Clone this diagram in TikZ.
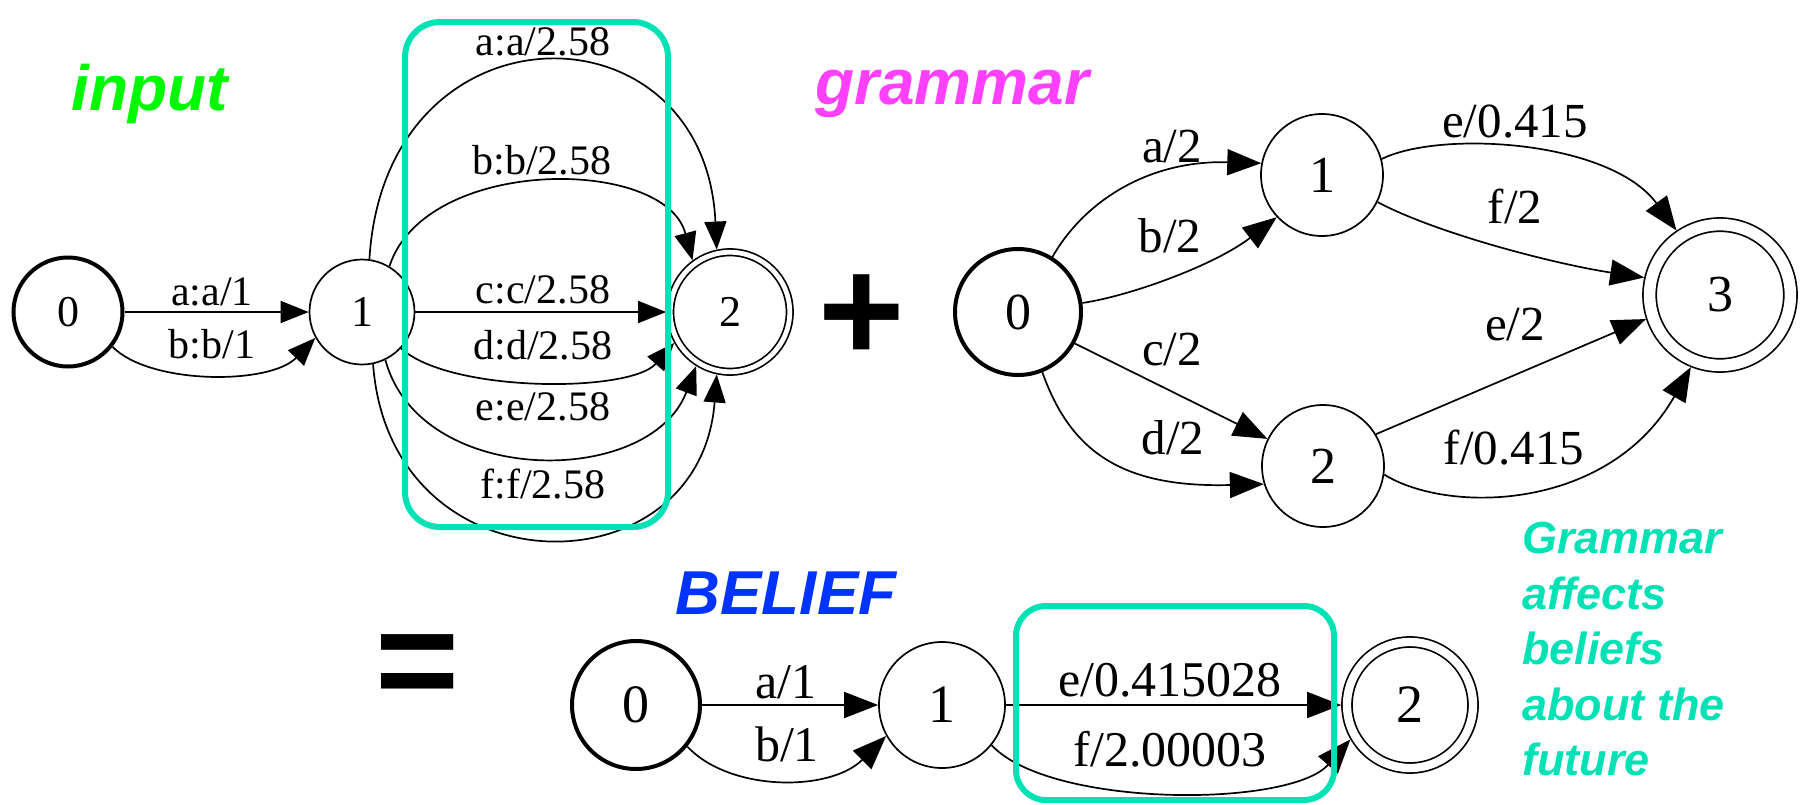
\documentclass[tikz,border=0pt]{standalone}
\usepackage{fontspec}
\setmainfont{Liberation Serif}
\newfontfamily\headfont{Liberation Sans}
\usetikzlibrary{arrows.meta}
\definecolor{inputgreen}{RGB}{0,250,0}
\definecolor{grammarpink}{RGB}{255,64,255}
\definecolor{beliefblue}{RGB}{0,51,255}
\definecolor{hilite}{RGB}{0,226,182}
\begin{document}
\begin{tikzpicture}[x=0.5pt,y=0.5pt,
  fsa/.style={circle, draw, line width=0.85pt, inner sep=0pt, outer sep=0.425pt,
    minimum size=#1},
  initst/.style={fsa=#1, line width=2pt, outer sep=1pt},
  finalst/.style={fsa=#1, double},
  arrin/.style={-{Triangle[length=14pt,width=11pt]}, line width=0.85pt},
  arrbig/.style={-{Triangle[length=17pt,width=13pt]}, line width=0.85pt},
  digin/.style={font=\fontsize{22}{24}\selectfont},
  diggr/.style={font=\fontsize{26}{28}\selectfont},
  digbe/.style={font=\fontsize{27}{29}\selectfont},
  lblin/.style={inner sep=0pt, font=\fontsize{21}{24}\selectfont},
  lblgr/.style={inner sep=0pt, font=\fontsize{24.5}{27}\selectfont},
  lblbe/.style={inner sep=0pt, font=\fontsize{25}{28}\selectfont},
  heading/.style={inner sep=0pt, font=\headfont\bfseries\itshape\fontsize{32}{36}\selectfont},
  hlbox/.style={draw=hilite, line width=3pt}
]
\useasboundingbox (0,0) rectangle (1806,-804);

% ---------- input transducer ----------
\node[heading, text=inputgreen] (ttl-in) at (150,-94) {input};
\node[initst=54.5pt, digin] (i0) at (68,-312) {0};
\node[fsa=52.5pt, digin] (i1) at (362,-312) {1};
\node[finalst=59.75pt, digin, double distance=2.4pt, outer sep=2.05pt] (i2) at (730,-312) {2};

\draw[arrin] (i0) -- (i1);
\draw[arrin] (i0.-38) .. controls (150,-385) and (270,-385) .. (i1.-151);
\draw[arrin] (i1.82) .. controls (385,2) and (705,2) .. (i2.102);
\draw[arrin] (i1.59) .. controls (425,-156) and (665,-156) .. (i2.126);
\draw[arrin] (i1) -- (i2);
\draw[arrin] (i1.-43) .. controls (450,-393) and (630,-393) .. (i2.-151);
\draw[arrin] (i1.-64) .. controls (420,-488) and (650,-488) .. (i2.-122);
\draw[arrin] (i1.-78) .. controls (390,-594) and (700,-594) .. (i2.-102);

\node[lblin] (l-aa1) at (212,-292) {a:a/1};
\node[lblin] (l-bb1) at (212,-344) {b:b/1};
\node[lblin] (l-aa) at (543,-42) {a:a/2.58};
\node[lblin] (l-bb) at (542,-160) {b:b/2.58};
\node[lblin] (l-cc) at (543,-290) {c:c/2.58};
\node[lblin] (l-dd) at (543,-345) {d:d/2.58};
\node[lblin] (l-ee) at (543,-407) {e:e/2.58};
\node[lblin] (l-ff) at (543,-484) {f:f/2.58};

\draw[hlbox, rounded corners=17.5pt] (405,-22) rectangle (668,-527);

% ---------- plus / equals ----------
\node[inner sep=0pt, font=\headfont\bfseries\fontsize{74}{80}\selectfont] (plus) at (862,-318) {+};
\node[inner sep=0pt, font=\headfont\bfseries\fontsize{72}{80}\selectfont] (eq) at (418,-672) {=};

% ---------- grammar automaton ----------
\node[heading, text=grammarpink] (ttl-gr) at (952,-94) {grammar};
\node[initst=63pt, diggr] (g0) at (1018,-312) {0};
\node[fsa=61pt, diggr] (g1) at (1322,-175) {1};
\node[fsa=61pt, diggr] (g2) at (1323,-466) {2};
\node[finalst=70.4pt, diggr, double distance=5.75pt, outer sep=3.7pt] (g3) at (1720,-295) {3};

\draw[arrbig] (g0.58) .. controls (1085,-200) and (1150,-160) .. (g1.169);
\draw[arrbig] (g0.8) .. controls (1130,-296) and (1215,-265) .. (g1.-137);
\draw[arrbig] (g0.-29) -- (g2.154);
\draw[arrbig] (g0.-68) .. controls (1070,-450) and (1120,-488) .. (g2.-163);
\draw[arrbig] (g1.15) .. controls (1440,-130) and (1610,-140) .. (g3.124);
\draw[arrbig] (g1.-26) .. controls (1440,-235) and (1560,-265) .. (g3.167);
\draw[arrbig] (g2.31) -- (g3.-162);
\draw[arrbig] (g2.-8) .. controls (1450,-515) and (1610,-510) .. (g3.-112);

\node[lblgr] (l-a2) at (1172,-147) {a/2};
\node[lblgr] (l-b2) at (1170,-236) {b/2};
\node[lblgr] (l-c2) at (1172,-350) {c/2};
\node[lblgr] (l-d2) at (1173,-438) {d/2};
\node[lblgr] (l-e1) at (1515,-122) {e/0.415};
\node[lblgr] (l-f1) at (1515,-206) {f/2};
\node[lblgr] (l-e2) at (1515,-325) {e/2};
\node[lblgr] (l-f2) at (1514,-448) {f/0.415};

% ---------- belief automaton ----------
\node[heading, text=beliefblue, font=\headfont\bfseries\itshape\fontsize{31}{36}\selectfont] (ttl-be) at (786,-593) {BELIEF};
\node[initst=64pt, digbe] (b0) at (636,-705) {0};
\node[fsa=63pt, digbe] (b1) at (942,-705) {1};
\node[finalst=63pt, digbe, double distance=4.15pt, outer sep=2.9pt] (b2) at (1410,-705) {2};

\draw[arrbig] (b0) -- (b1);
\draw[arrbig] (b0.-39) .. controls (730,-792) and (830,-792) .. (b1.-151);
\draw[arrbig] (b1) -- (b2);
\draw[arrbig] (b1.-39) .. controls (1050,-808) and (1290,-808) .. (b2.-150);

\node[lblbe] (l-a1) at (786,-682) {a/1};
\node[lblbe] (l-b1) at (787,-744) {b/1};
\node[lblbe] (l-ebel) at (1170,-680) {e/0.415028};
\node[lblbe] (l-fbel) at (1170,-749) {f/2.00003};

\draw[hlbox, rounded corners=15pt] (1016,-606) rectangle (1334,-800);

% ---------- side note ----------
\node[anchor=north west, align=left, inner sep=0pt, text=hilite,
  font=\headfont\bfseries\itshape\fontsize{22.5}{27.75}\selectfont] (note) at (1522,-522)
  {Grammar\\affects\\beliefs\\about the\\future};
\end{tikzpicture}
\end{document}
